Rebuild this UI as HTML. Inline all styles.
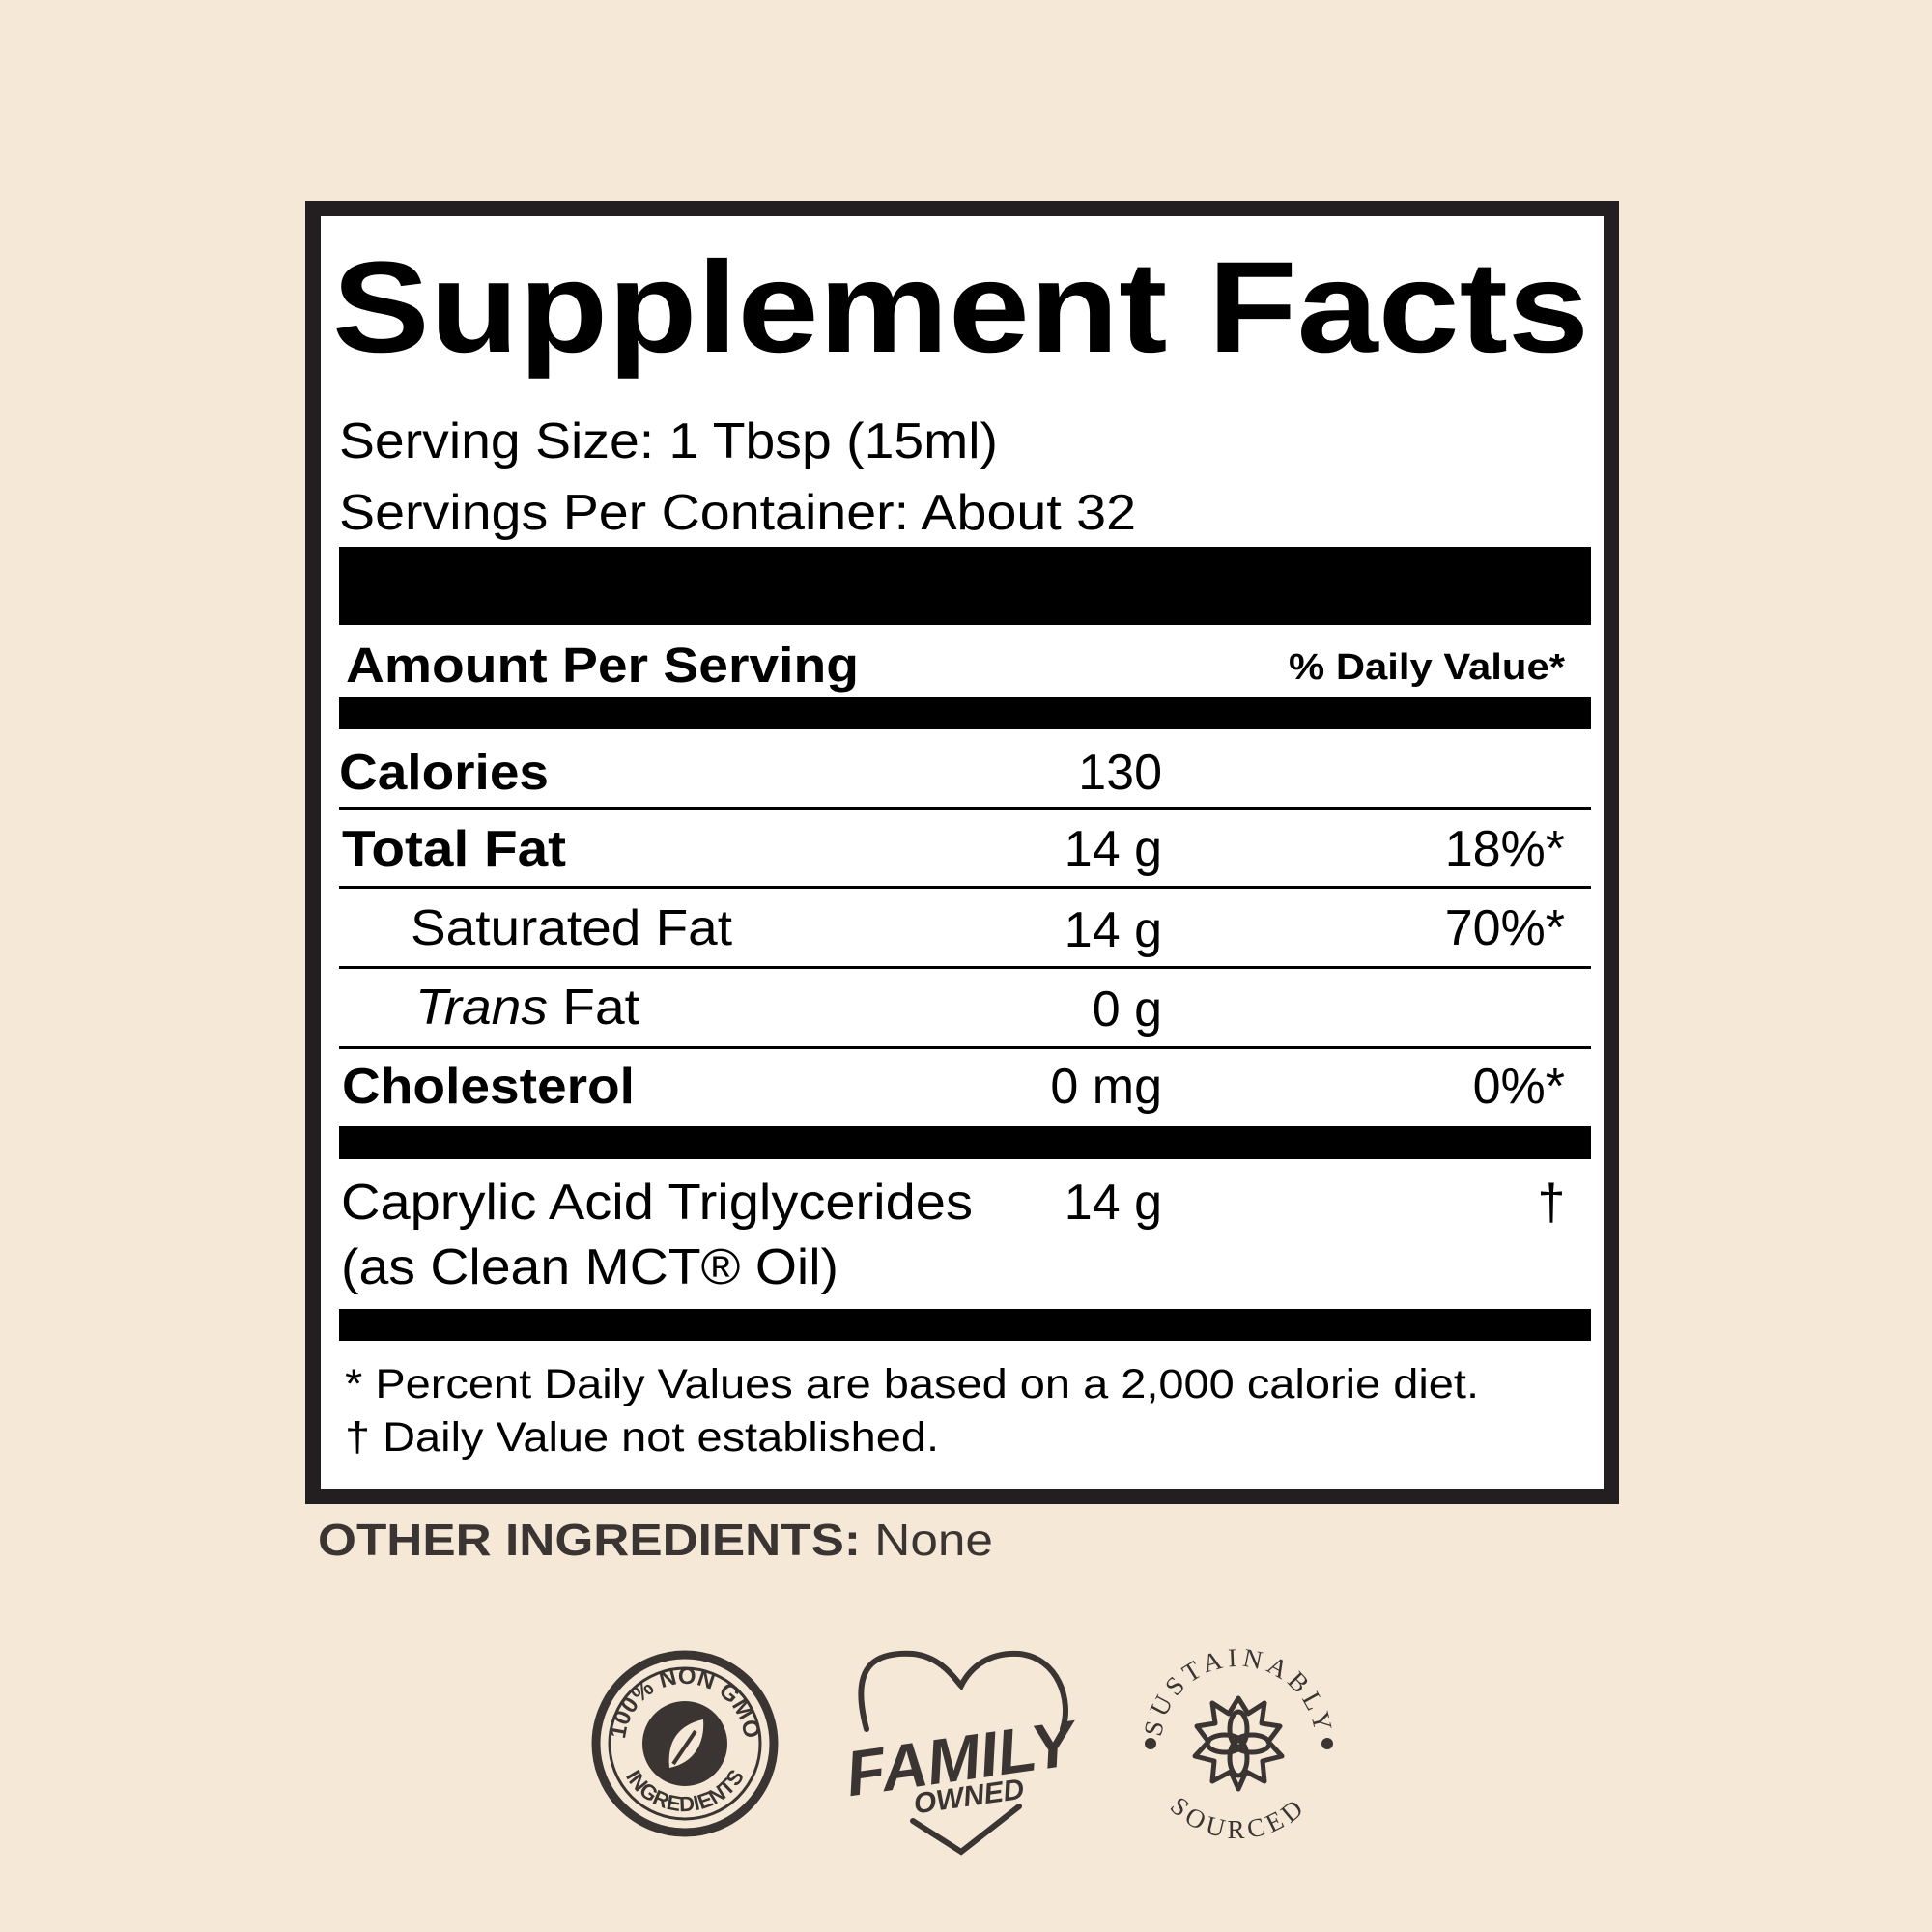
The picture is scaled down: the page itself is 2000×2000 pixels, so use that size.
<!DOCTYPE html>
<html><head><meta charset="utf-8"><style>
html,body{margin:0;padding:0;background:#f5e8d7;}
svg{display:block}
text{font-family:"Liberation Sans",Arial,sans-serif;fill:#000}
</style></head><body>
<svg width="2000" height="2000" viewBox="0 0 2000 2000" xmlns="http://www.w3.org/2000/svg">
<rect x="0" y="0" width="2000" height="2000" fill="#f5e8d7"/>
<rect x="324" y="216" width="1344" height="1333" fill="#fff" stroke="#231f20" stroke-width="16"/>
<text x="344" y="364" font-size="134" font-weight="bold" textLength="1301" lengthAdjust="spacingAndGlyphs">Supplement Facts</text>
<text x="351" y="474" font-size="52" textLength="682" lengthAdjust="spacingAndGlyphs">Serving Size: 1 Tbsp (15ml)</text>
<text x="351" y="548" font-size="52" textLength="825" lengthAdjust="spacingAndGlyphs">Servings Per Container: About 32</text>
<rect x="351" y="566" width="1296" height="81" fill="#000"/>
<text x="358" y="706" font-size="51" font-weight="bold" textLength="531" lengthAdjust="spacingAndGlyphs">Amount Per Serving</text>
<text x="1334" y="703" font-size="38" font-weight="bold" textLength="286" lengthAdjust="spacingAndGlyphs">% Daily Value*</text>
<rect x="351" y="722" width="1296" height="33" fill="#000"/>
<text x="351" y="817" font-size="52" font-weight="bold" textLength="217" lengthAdjust="spacingAndGlyphs">Calories</text>
<text x="1203" y="817" font-size="52" text-anchor="end">130</text>
<rect x="351" y="835" width="1296" height="3" fill="#000"/>
<text x="354" y="896" font-size="52" font-weight="bold" textLength="232" lengthAdjust="spacingAndGlyphs">Total Fat</text>
<text x="1203" y="896" font-size="52" text-anchor="end">14 g</text>
<text x="1620" y="896" font-size="52" text-anchor="end">18%*</text>
<rect x="351" y="917" width="1296" height="3" fill="#000"/>
<text x="425" y="978" font-size="52" textLength="333" lengthAdjust="spacingAndGlyphs">Saturated Fat</text>
<text x="1203" y="980" font-size="52" text-anchor="end">14 g</text>
<text x="1620" y="978" font-size="52" text-anchor="end">70%*</text>
<rect x="351" y="1000" width="1296" height="3" fill="#000"/>
<text x="430" y="1060" font-size="52" textLength="232" lengthAdjust="spacingAndGlyphs"><tspan font-style="italic">Trans</tspan> Fat</text>
<text x="1203" y="1062" font-size="52" text-anchor="end">0 g</text>
<rect x="351" y="1083" width="1296" height="3" fill="#000"/>
<text x="354" y="1142" font-size="52" font-weight="bold" textLength="303" lengthAdjust="spacingAndGlyphs">Cholesterol</text>
<text x="1203" y="1142" font-size="52" text-anchor="end">0 mg</text>
<text x="1620" y="1142" font-size="52" text-anchor="end">0%*</text>
<rect x="351" y="1166" width="1296" height="34" fill="#000"/>
<text x="353" y="1262" font-size="52" textLength="654" lengthAdjust="spacingAndGlyphs">Caprylic Acid Triglycerides</text>
<text x="353" y="1329" font-size="52" textLength="515" lengthAdjust="spacingAndGlyphs">(as Clean MCT® Oil)</text>
<text x="1203" y="1262" font-size="52" text-anchor="end">14 g</text>
<text x="1606" y="1262" font-size="52" text-anchor="middle">†</text>
<rect x="351" y="1355" width="1296" height="33" fill="#000"/>
<text x="357" y="1447" font-size="43" textLength="1174" lengthAdjust="spacingAndGlyphs">* Percent Daily Values are based on a 2,000 calorie diet.</text>
<text x="357" y="1502" font-size="43" textLength="615" lengthAdjust="spacingAndGlyphs">† Daily Value not established.</text>
<text x="329" y="1610" font-size="46" textLength="699" lengthAdjust="spacingAndGlyphs" style="fill:#3a3532"><tspan font-weight="bold">OTHER INGREDIENTS:</tspan> None</text>
<!-- icon 1 -->
<g fill="none" stroke="#3a3532">
<circle cx="709" cy="1805" r="92" stroke-width="9"/>
<circle cx="709" cy="1805" r="78" stroke-width="3"/>
</g>
<circle cx="709" cy="1805" r="44" fill="#3a3532"/>
<path d="M693 1830 C690 1800 705 1785 728 1780 C730 1805 718 1825 693 1830 Z" fill="#f5e8d7"/>
<path d="M697 1826 L720 1792" stroke="#3a3532" stroke-width="4"/>
<defs>
<path id="c1top" d="M647 1805 A62 62 0 0 1 771 1805"/>
<path id="c1bot" d="M639 1805 A70 70 0 0 0 779 1805"/>
<path id="c3top" d="M1202 1805 A80 80 0 0 1 1362 1805"/>
<path id="c3bot" d="M1184 1805 A98 98 0 0 0 1380 1805"/>
</defs>
<text font-size="24" font-weight="bold" style="fill:#3a3532"><textPath href="#c1top" startOffset="50%" text-anchor="middle">100% NON GMO</textPath></text>
<text font-size="22" font-weight="bold" style="fill:#3a3532"><textPath href="#c1bot" startOffset="50%" text-anchor="middle">INGREDIENTS</textPath></text>
<!-- heart -->
<path d="M897 1790 C878 1720 910 1710 945 1712 C975 1715 990 1740 995 1745 C1005 1725 1025 1710 1055 1712 C1095 1716 1110 1760 1100 1790" fill="none" stroke="#3a3532" stroke-width="6" stroke-linecap="round"/>
<path d="M945 1885 L995 1917 L1055 1870" fill="none" stroke="#3a3532" stroke-width="6" stroke-linecap="round"/>
<text x="995" y="1843" font-size="66" font-weight="bold" font-style="italic" text-anchor="middle" transform="rotate(-8 995 1830)" style="fill:#3a3532">FAMILY</text>
<text x="1003" y="1870" font-size="30" font-weight="bold" font-style="italic" text-anchor="middle" transform="rotate(-8 1000 1860)" style="fill:#3a3532">OWNED</text>
<!-- sustainably -->
<text font-size="27" style="font-family:'Liberation Serif',serif;fill:#3a3532;letter-spacing:5px"><textPath href="#c3top" startOffset="50%" text-anchor="middle">SUSTAINABLY</textPath></text>
<text font-size="27" style="font-family:'Liberation Serif',serif;fill:#3a3532;letter-spacing:5px"><textPath href="#c3bot" startOffset="50%" text-anchor="middle">SOURCED</textPath></text>
<circle cx="1191" cy="1805" r="6" fill="#3a3532"/>
<circle cx="1374" cy="1805" r="6" fill="#3a3532"/>
<g fill="none" stroke="#3a3532" stroke-width="5" stroke-linejoin="round">
<polygon points="1282,1758 1292,1774 1309,1763 1306,1784 1325,1787 1313,1803 1327,1818 1307,1823 1309,1844 1290,1834 1282,1852 1274,1834 1255,1844 1257,1823 1237,1818 1251,1803 1239,1787 1258,1784 1255,1763 1272,1774"/>
<ellipse cx="1282" cy="1790" rx="9" ry="18"/>
<ellipse cx="1282" cy="1820" rx="9" ry="18"/>
<ellipse cx="1268" cy="1805" rx="18" ry="9"/>
<ellipse cx="1296" cy="1805" rx="18" ry="9"/>
</g>
</svg>
</body></html>
